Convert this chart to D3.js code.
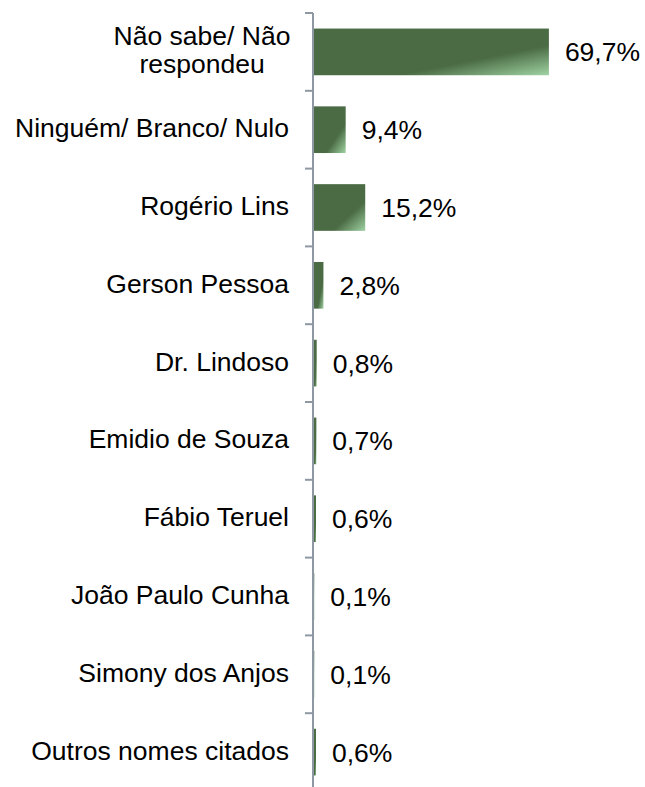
<!DOCTYPE html>
<html>
<head>
<meta charset="utf-8">
<script src="https://cdn.jsdelivr.net/npm/d3@7"></script>
<style>
  body { margin: 0; background: #fff; overflow: hidden; }
  svg { display: block; }
  text { font-family: "Liberation Sans", Arial, sans-serif; fill: #000; }
</style>
</head>
<body>
<div id="container"></div>
<script>
/* DATA */
const candidates = ["Não sabe/ Não respondeu", "Ninguém/ Branco/ Nulo", "Rogério Lins", "Gerson Pessoa",
  "Dr. Lindoso", "Emidio de Souza", "Fábio Teruel", "João Paulo Cunha", "Simony dos Anjos", "Outros nomes citados"];
const percents = [69.7, 9.4, 15.2, 2.8, 0.8, 0.7, 0.6, 0.1, 0.1, 0.6];
const labelLines = { "Não sabe/ Não respondeu": ["Não sabe/ Não", "respondeu"] };

/* CONSTANTS */
const width = 645, height = 787;
const axisX = 313;
const fontSize = 26.5;

const data = candidates.map((c, i) => ({ name: c, value: percents[i] }));

/* SCALES */
const xScale = d3.scaleLinear()
  .domain([0, 100])
  .range([axisX + 1, axisX + 1 + 337]);

const yScale = d3.scaleBand()
  .domain(candidates)
  .range([13, 791])
  .paddingInner(0.4)
  .paddingOuter(0.2);

const fmt = d3.formatLocale({ decimal: ",", thousands: ".", grouping: [3], currency: ["", ""] }).format(".1f");

// SVG
const svg = d3.select("#container")
  .append("svg")
  .attr("width", width)
  .attr("height", height);

const defs = svg.append("defs");
const grad = defs.append("linearGradient")
  .attr("id", "barGrad")
  .attr("x1", 0).attr("y1", 0).attr("x2", 1).attr("y2", 1);
grad.append("stop").attr("offset", "0%").attr("stop-color", "#4b6b44");
grad.append("stop").attr("offset", "68%").attr("stop-color", "#4b6b44");
grad.append("stop").attr("offset", "100%").attr("stop-color", "#9fd3a3");

// bars
svg.selectAll("rect.bar")
  .data(data)
  .join("rect")
  .attr("class", "bar")
  .attr("x", xScale(0))
  .attr("y", d => yScale(d.name))
  .attr("width", d => xScale(d.value) - xScale(0))
  .attr("height", yScale.bandwidth())
  .style("fill", "url(#barGrad)");

// axis line + boundary ticks
const step = yScale.step();
const [y0, y1] = yScale.range();
svg.append("line")
  .attr("x1", axisX).attr("x2", axisX)
  .attr("y1", y0).attr("y2", y1)
  .style("stroke", "#8d98a3").style("stroke-width", 2);

svg.selectAll("line.tick")
  .data(d3.range(candidates.length + 1))
  .join("line")
  .attr("class", "tick")
  .attr("x1", axisX - 8).attr("x2", axisX)
  .attr("y1", i => y0 + i * step).attr("y2", i => y0 + i * step)
  .style("stroke", "#8d98a3").style("stroke-width", 2);

// category labels
const center = name => yScale(name) + yScale.bandwidth() / 2;
svg.selectAll("text.cat")
  .data(data)
  .join("text")
  .attr("class", "cat")
  .style("font-size", fontSize + "px")
  .each(function (d) {
    const t = d3.select(this);
    const lines = labelLines[d.name];
    if (lines) {
      t.attr("text-anchor", "middle");
      lines.forEach((ln, i) => {
        t.append("tspan")
          .attr("x", 202)
          .attr("y", center(d.name) + 7.5 + (i - (lines.length - 1) / 2) * 28)
          .text(ln);
      });
    } else {
      t.attr("text-anchor", "end")
        .attr("x", 289)
        .attr("y", center(d.name) + 7.5)
        .text(d.name);
    }
  });

// value labels
svg.selectAll("text.val")
  .data(data)
  .join("text")
  .attr("class", "val")
  .attr("x", d => xScale(d.value) + 16)
  .attr("y", d => center(d.name) + 9.5)
  .style("font-size", fontSize + "px")
  .text(d => fmt(d.value) + "%");
</script>
</body>
</html>
